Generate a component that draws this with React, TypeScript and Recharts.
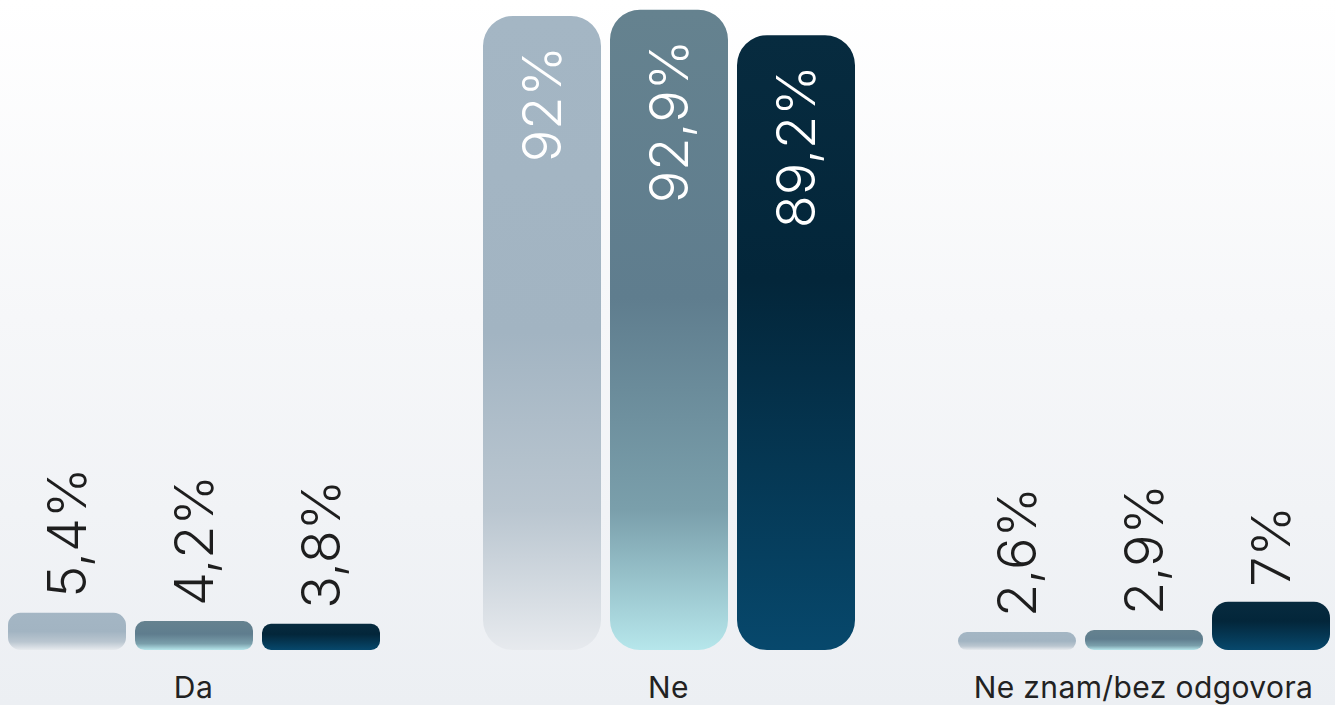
import { BarChart, Bar, XAxis, YAxis, LabelList, Rectangle } from 'recharts';

const categories = ['Da', 'Ne', 'Ne znam/bez odgovora'];
const series1 = [5.4, 92, 2.6];
const series2 = [4.2, 92.9, 2.9];
const series3 = [3.8, 89.2, 7];

const data = categories.map((name, i) => ({
	name,
	s1: series1[i],
	s2: series2[i],
	s3: series3[i],
}));

const fmt = (v: number) => String(v).replace('.', ',') + '%';

const RoundBar = (props: any) => {
	const { x, y, width, height, fill } = props;
	const r = Math.min(30, height / 2, Math.max(9, height / 3));
	return <Rectangle x={x} y={y} width={width} height={height} fill={fill} radius={[r, r, r, r]} />;
};

const ValueLabel = (props: any) => {
	const { x, y, width, value } = props;
	const cx = x + width / 2;
	const inside = value > 50;
	const ty = inside ? y + 30 : y - 15;
	return (
		<text
			x={cx}
			y={ty}
			transform={`rotate(-90, ${cx}, ${ty})`}
			textAnchor={inside ? 'end' : 'start'}
			dominantBaseline="central"
			fontFamily="Inter, sans-serif"
			fontWeight={300}
			fontSize={54}
			fill={inside ? '#ffffff' : '#1e1e1e'}
		>
			{fmt(value)}
		</text>
	);
};

const App = () => {
	return (
		<div
			style={{
				position: 'fixed',
				left: 0,
				top: 0,
				width: 1335,
				height: 705,
				overflow: 'hidden',
				background: 'linear-gradient(180deg, #ffffff 0%, #f6f7f9 45%, #eceff3 100%)',
			}}
		>
			<div style={{ position: 'absolute', left: -44, top: 0 }}>
				<BarChart
					width={1425}
					height={705}
					data={data}
					margin={{ top: 9, right: 0, left: 0, bottom: 0 }}
					barSize={118}
					barGap={9}
				>
					<defs>
						<linearGradient id="g1" x1="0" y1="0" x2="0" y2="1">
							<stop offset="0%" stopColor="#a4b6c4" />
							<stop offset="50%" stopColor="#a2b4c2" />
							<stop offset="78%" stopColor="#bac6d0" />
							<stop offset="100%" stopColor="#e7eaee" />
						</linearGradient>
						<linearGradient id="g2" x1="0" y1="0" x2="0" y2="1">
							<stop offset="0%" stopColor="#65828f" />
							<stop offset="45%" stopColor="#5f7d8e" />
							<stop offset="78%" stopColor="#7a9fab" />
							<stop offset="100%" stopColor="#b6e6eb" />
						</linearGradient>
						<linearGradient id="g3" x1="0" y1="0" x2="0" y2="1">
							<stop offset="0%" stopColor="#072b3f" />
							<stop offset="40%" stopColor="#03263a" />
							<stop offset="100%" stopColor="#07486c" />
						</linearGradient>
					</defs>
					<XAxis
						dataKey="name"
						height={55}
						axisLine={false}
						tickLine={false}
						tickMargin={21}
						tick={{ fontSize: 30, fill: '#222', fontFamily: 'Inter, sans-serif', letterSpacing: 0.4 }}
						interval={0}
					/>
					<YAxis hide domain={[0, 93]} />
					<Bar dataKey="s1" fill="url(#g1)" shape={RoundBar} isAnimationActive={false}>
						<LabelList dataKey="s1" content={ValueLabel} />
					</Bar>
					<Bar dataKey="s2" fill="url(#g2)" shape={RoundBar} isAnimationActive={false}>
						<LabelList dataKey="s2" content={ValueLabel} />
					</Bar>
					<Bar dataKey="s3" fill="url(#g3)" shape={RoundBar} isAnimationActive={false}>
						<LabelList dataKey="s3" content={ValueLabel} />
					</Bar>
				</BarChart>
			</div>
		</div>
	);
};

export default App;
